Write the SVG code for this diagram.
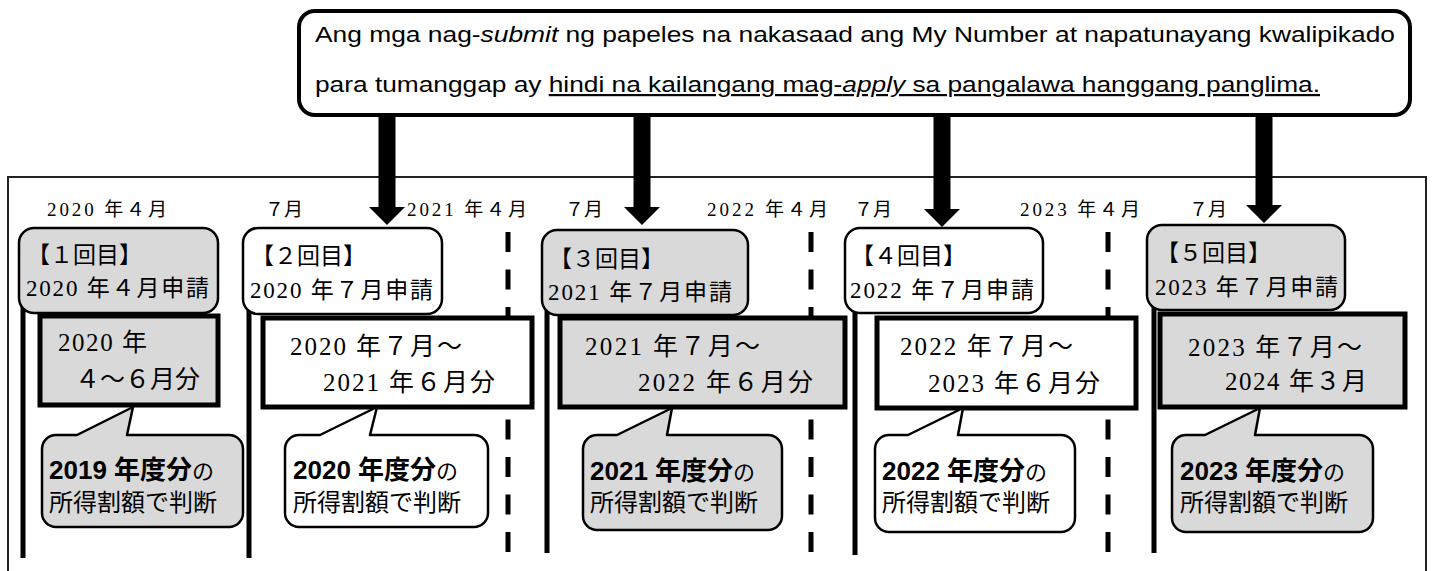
<svg xmlns="http://www.w3.org/2000/svg" width="1433" height="571" viewBox="0 0 1433 571">
<style>
.frame{fill:none;stroke:#222;stroke-width:2}
.callout{fill:#fff;stroke:#000;stroke-width:4}
.gray{fill:#d9d9d9}
.white{fill:#fff}
.rbox{stroke:#000;stroke-width:2.5}
.pbox{stroke:#000;stroke-width:5}
.bub{stroke:#000;stroke-width:2.5;stroke-linejoin:round}
.vline{stroke:#000;stroke-width:5}
.dline{stroke:#000;stroke-width:5;stroke-dasharray:20 17.5}
.arrow{fill:#000}
.m{font-family:"Liberation Serif","Noto Sans CJK JP",serif;fill:#000}
.date{font-size:19px}
.rb{font-size:23px}
.pb{font-size:25px}
.g{font-family:"Liberation Sans","Noto Sans CJK JP",sans-serif;fill:#000}
.top{font-size:22px}
.b1{font-size:26px;font-weight:bold}
.no{font-family:"Liberation Serif","Noto Sans CJK JP",serif;font-size:22px;font-weight:normal}
.b2{font-size:24px}
</style>
<rect class="frame" x="8" y="177" width="1418" height="420"/>
<g id="dates">
<text class="m date" x="47" y="216" textLength="120" lengthAdjust="spacing">2020 年４月</text>
<text class="m date" x="265" y="216">７月</text>
<text class="m date" x="407" y="216" textLength="120" lengthAdjust="spacing">2021 年４月</text>
<text class="m date" x="565" y="216">７月</text>
<text class="m date" x="707" y="216" textLength="121" lengthAdjust="spacing">2022 年４月</text>
<text class="m date" x="854" y="216">７月</text>
<text class="m date" x="1020" y="216" textLength="120" lengthAdjust="spacing">2023 年４月</text>
<text class="m date" x="1189" y="216">７月</text>
</g>
<g id="lines">
<line class="vline" x1="23" y1="240" x2="23" y2="558"/>
<line class="vline" x1="249" y1="240" x2="249" y2="558"/>
<line class="vline" x1="547" y1="240" x2="547" y2="553"/>
<line class="vline" x1="855" y1="240" x2="855" y2="555"/>
<line class="vline" x1="1154" y1="240" x2="1154" y2="553"/>
<line class="dline" x1="508" y1="232" x2="508" y2="552"/>
<line class="dline" x1="811" y1="232" x2="811" y2="552"/>
<line class="dline" x1="1108" y1="232" x2="1108" y2="552"/>
</g>
<g id="period1">
<rect class="pbox gray" x="40" y="316" width="178" height="89"/>
<text class="m pb" x="58" y="351" textLength="89" lengthAdjust="spacing">2020 年</text>
<text class="m pb" x="75" y="388">４～６月分</text>
</g>
<g id="period2">
<rect class="pbox white" x="263" y="318" width="269" height="89"/>
<text class="m pb" x="290" y="355" textLength="172" lengthAdjust="spacing">2020 年７月～</text>
<text class="m pb" x="323" y="391" textLength="172" lengthAdjust="spacing">2021 年６月分</text>
</g>
<g id="period3">
<rect class="pbox gray" x="560" y="318" width="285" height="89"/>
<text class="m pb" x="585" y="355" textLength="175" lengthAdjust="spacing">2021 年７月～</text>
<text class="m pb" x="638" y="391" textLength="175" lengthAdjust="spacing">2022 年６月分</text>
</g>
<g id="period4">
<rect class="pbox white" x="877" y="318" width="259" height="90"/>
<text class="m pb" x="900" y="355" textLength="173" lengthAdjust="spacing">2022 年７月～</text>
<text class="m pb" x="928" y="392" textLength="172" lengthAdjust="spacing">2023 年６月分</text>
</g>
<g id="period5">
<rect class="pbox gray" x="1160" y="314" width="245" height="93"/>
<text class="m pb" x="1188" y="356" textLength="174" lengthAdjust="spacing">2023 年７月～</text>
<text class="m pb" x="1225" y="390" textLength="142" lengthAdjust="spacing">2024 年３月</text>
</g>
<g id="apply1">
<rect class="rbox gray" x="19" y="228" width="199" height="85" rx="15"/>
<text class="m rb" x="27" y="263">【１回目】</text>
<text class="m rb" x="26" y="296" textLength="183" lengthAdjust="spacing">2020 年４月申請</text>
</g>
<g id="apply2">
<rect class="rbox white" x="243" y="228" width="199" height="86" rx="15"/>
<text class="m rb" x="251" y="264">【２回目】</text>
<text class="m rb" x="250" y="298" textLength="183" lengthAdjust="spacing">2020 年７月申請</text>
</g>
<g id="apply3">
<rect class="rbox gray" x="542" y="230" width="206" height="85" rx="15"/>
<text class="m rb" x="549" y="267">【３回目】</text>
<text class="m rb" x="548" y="300" textLength="184" lengthAdjust="spacing">2021 年７月申請</text>
</g>
<g id="apply4">
<rect class="rbox white" x="845" y="228" width="198" height="85" rx="15"/>
<text class="m rb" x="851" y="264">【４回目】</text>
<text class="m rb" x="850" y="298" textLength="184" lengthAdjust="spacing">2022 年７月申請</text>
</g>
<g id="apply5">
<rect class="rbox gray" x="1147" y="225" width="198" height="85" rx="15"/>
<text class="m rb" x="1156" y="261">【５回目】</text>
<text class="m rb" x="1155" y="295" textLength="183" lengthAdjust="spacing">2023 年７月申請</text>
</g>
<g id="note1">
<path class="bub gray" d="M56,435 H77 L133,407 L127,435 H229 A14,14 0 0 1 243,449 V513 A14,14 0 0 1 229,527 H56 A14,14 0 0 1 42,513 V449 A14,14 0 0 1 56,435 Z"/>
<text class="g b1" x="49" y="479">2019 年度分<tspan class="no">の</tspan></text>
<text class="g b2" x="49" y="511">所得割額で判断</text>
</g>
<g id="note2">
<path class="bub white" d="M299,435 H320 L377,407 L370,435 H474 A14,14 0 0 1 488,449 V513 A14,14 0 0 1 474,527 H299 A14,14 0 0 1 285,513 V449 A14,14 0 0 1 299,435 Z"/>
<text class="g b1" x="293" y="479">2020 年度分<tspan class="no">の</tspan></text>
<text class="g b2" x="293" y="511">所得割額で判断</text>
</g>
<g id="note3">
<path class="bub gray" d="M597,435 H617 L672,408 L667,435 H768 A14,14 0 0 1 782,449 V516 A14,14 0 0 1 768,530 H597 A14,14 0 0 1 583,516 V449 A14,14 0 0 1 597,435 Z"/>
<text class="g b1" x="590" y="480">2021 年度分<tspan class="no">の</tspan></text>
<text class="g b2" x="590" y="511">所得割額で判断</text>
</g>
<g id="note4">
<path class="bub white" d="M889,435 H908 L963,408 L958,435 H1061 A14,14 0 0 1 1075,449 V518 A14,14 0 0 1 1061,532 H889 A14,14 0 0 1 875,518 V449 A14,14 0 0 1 889,435 Z"/>
<text class="g b1" x="882" y="480">2022 年度分<tspan class="no">の</tspan></text>
<text class="g b2" x="882" y="511">所得割額で判断</text>
</g>
<g id="note5">
<path class="bub gray" d="M1186,435 H1205 L1260,408 L1255,435 H1359 A14,14 0 0 1 1373,449 V518 A14,14 0 0 1 1359,532 H1186 A14,14 0 0 1 1172,518 V449 A14,14 0 0 1 1186,435 Z"/>
<text class="g b1" x="1180" y="480">2023 年度分<tspan class="no">の</tspan></text>
<text class="g b2" x="1180" y="511">所得割額で判断</text>
</g>
<g id="connectors">
<polygon class="arrow" points="378.5,112 395.5,112 395.5,207 405,207 387,225 369,207 378.5,207"/>
<polygon class="arrow" points="633.5,112 650.5,112 650.5,207 660,207 642,225 624,207 633.5,207"/>
<polygon class="arrow" points="933.5,112 950.5,112 950.5,209 960,209 942,227 924,209 933.5,209"/>
<polygon class="arrow" points="1255.5,112 1272.5,112 1272.5,205 1282,205 1264,223 1246,205 1255.5,205"/>
</g>
<g id="notice">
<rect class="callout" x="299" y="11" width="1111" height="104" rx="16"/>
<text class="g top" x="315" y="42" textLength="1080" lengthAdjust="spacingAndGlyphs">Ang mga nag-<tspan font-style="italic">submit</tspan> ng papeles na nakasaad ang My Number at napatunayang kwalipikado</text>
<text class="g top" x="315" y="92" textLength="1005" lengthAdjust="spacingAndGlyphs">para tumanggap ay <tspan text-decoration="underline">hindi na kailangang mag-<tspan font-style="italic">apply</tspan> sa pangalawa hanggang panglima.</tspan></text>
</g>
</svg>
